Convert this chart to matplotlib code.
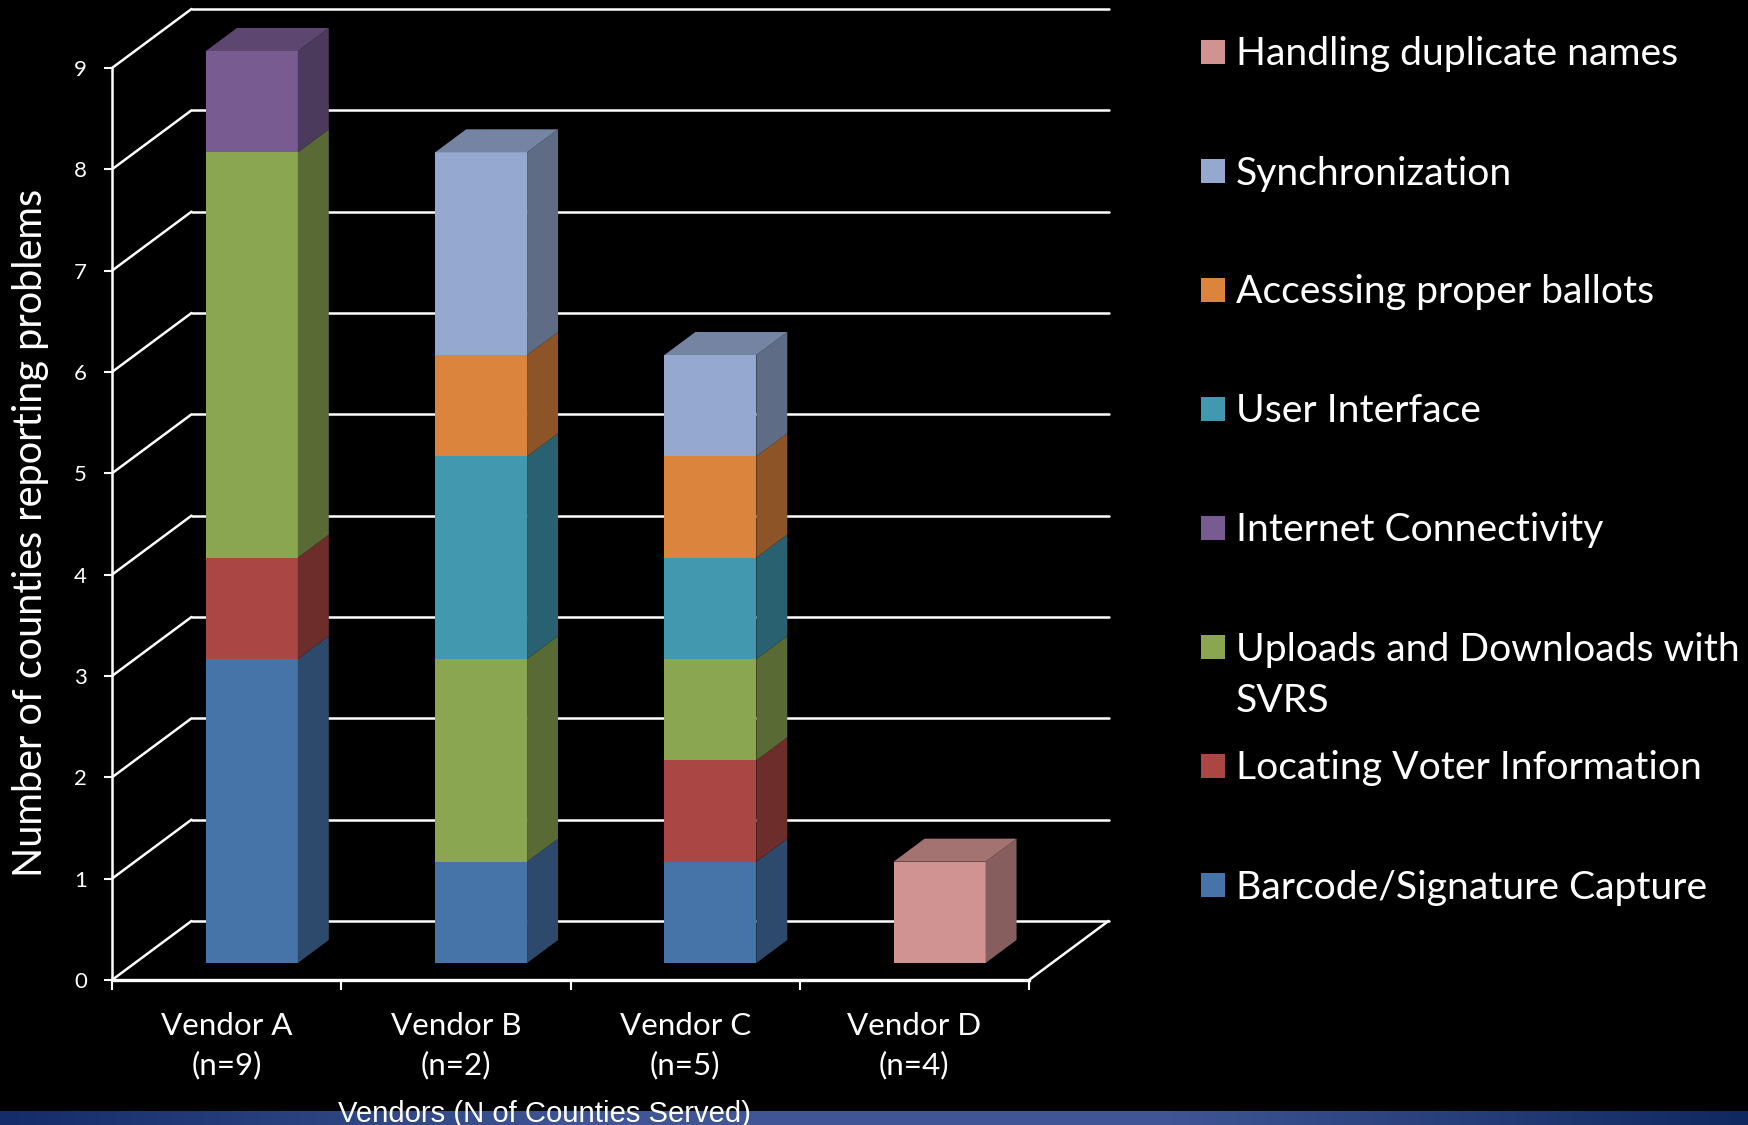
import numpy as np
import matplotlib
matplotlib.use('Agg')
import matplotlib.pyplot as plt
from matplotlib.colors import LinearSegmentedColormap, to_rgb
from matplotlib.patches import Rectangle

vendors = ['Vendor A\n(n=9)', 'Vendor B\n(n=2)', 'Vendor C\n(n=5)', 'Vendor D\n(n=4)']

# stacked from the bottom up, same order as the chart
problems = ['Barcode/Signature Capture', 'Locating Voter Information',
            'Uploads and Downloads with\nSVRS', 'Internet Connectivity',
            'User Interface', 'Accessing proper ballots',
            'Synchronization', 'Handling duplicate names']
barcode = [3, 1, 1, 0]
locating = [1, 0, 1, 0]
uploads = [4, 2, 1, 0]
internet = [1, 0, 0, 0]
interface = [0, 2, 1, 0]
ballots = [0, 1, 1, 0]
sync = [0, 2, 1, 0]
duplicates = [0, 0, 0, 1]
series = [barcode, locating, uploads, internet, interface, ballots, sync, duplicates]
colors = ['#4673A8', '#AA4643', '#8BA651', '#775B91',
          '#4198AF', '#DB843D', '#95A9D0', '#D19392']

W, H = 1748, 1125
fig = plt.figure(figsize=(W / 100, H / 100), dpi=100, facecolor='black')
plt.rcParams['font.family'] = ['Lato', 'DejaVu Sans']

# strip along the bottom, dark at both ends
strip = fig.add_axes([0, 0, 1, 14 / H])
grad = LinearSegmentedColormap.from_list('strip', ['#142C6A', '#3F5595', '#3F5595', '#0F2860'])
strip.imshow(np.linspace(0, 1, 256).reshape(1, -1), aspect='auto', cmap=grad)
strip.axis('off')

# axes rectangle is the front plane of the fake 3D box
ax = fig.add_axes([112 / W, 1 - 980 / H, 917 / W, 912 / H])
ax.set_facecolor('none')
ax.set_xlim(0, 4)
ax.set_ylim(0, 9)

depth_x = 79.5 / 229.25
depth_y = 59 / 101.3
bar_dx = 31 / 229.25
bar_dy = 23 / 101.3
lift_x = 0.11
lift_y = 17 / 101.3
bar_w = 0.401

line = dict(color='white', lw=1.8, clip_on=False, zorder=1, solid_capstyle='round')
for k in range(10):
    ax.plot([0, depth_x], [k, k + depth_y], **line)
    ax.plot([depth_x, 4 + depth_x], [k + depth_y, k + depth_y], **line)
ax.plot([4, 4 + depth_x], [0, depth_y], **line)


def shade(c, f):
    return tuple(v * f for v in to_rgb(c))


x = np.arange(4) + 0.5 + lift_x
bottom = np.zeros(4)
totals = np.sum(series, axis=0)
for vals, c in zip(series, colors):
    vals = np.array(vals)
    ax.bar(x, vals, bar_w, bottom=bottom + lift_y, color=c, clip_on=False, zorder=3)
    for xi, b, v, t in zip(x, bottom, vals, totals):
        if v == 0:
            continue
        x1 = xi + bar_w / 2
        y0 = b + lift_y
        y1 = y0 + v
        ax.fill([x1, x1 + bar_dx, x1 + bar_dx, x1],
                [y0, y0 + bar_dy, y1 + bar_dy, y1],
                color=shade(c, 0.64), lw=0, clip_on=False, zorder=3)
        if b + v == t:
            x0 = xi - bar_w / 2
            ax.fill([x0, x1, x1 + bar_dx, x0 + bar_dx],
                    [y1, y1, y1 + bar_dy, y1 + bar_dy],
                    color=shade(c, 0.78), lw=0, clip_on=False, zorder=3)
    bottom = bottom + vals

for side in ['top', 'right']:
    ax.spines[side].set_visible(False)
for side in ['left', 'bottom']:
    ax.spines[side].set_color('white')
ax.spines['left'].set_linewidth(1.8)
ax.spines['bottom'].set_linewidth(2.4)

ax.set_yticks(range(10))
ax.tick_params(axis='y', colors='white', labelsize=16, length=6, width=1.5, pad=12)
ax.set_xticks(range(5))
ax.set_xticklabels([])
ax.tick_params(axis='x', which='major', colors='white', length=7.5, width=1.5)
ax.set_xticks(np.arange(4) + 0.5, minor=True)
ax.set_xticklabels(vendors, minor=True, fontsize=22.6, color='white', linespacing=1.45)
ax.tick_params(axis='x', which='minor', length=0, pad=23)

fig.text(31 / W, 1 - 533 / H, 'Number of counties reporting problems', color='white',
         fontsize=28.5, rotation=90, ha='center', va='center')
fig.text(545 / W, 1 - 1113.5 / H, 'Vendors (N of Counties Served)', color='white',
         fontsize=21.1, family='Liberation Sans', ha='center', va='center')

# legend, top entry first
for i, (name, c) in enumerate(zip(problems[::-1], colors[::-1])):
    yc = 52 + 119 * i
    fig.add_artist(Rectangle((1201 / W, 1 - (yc + 12) / H), 24 / W, 24 / H,
                             transform=fig.transFigure, color=c, lw=0))
    if '\n' in name:
        fig.text(1236 / W, 1 - (yc - 15.5) / H, name, color='white', fontsize=28.2,
                 ha='left', va='top', linespacing=1.53)
    else:
        fig.text(1236 / W, 1 - (yc + 2.5) / H, name, color='white', fontsize=28.2,
                 ha='left', va='center')

fig.savefig('out.png', dpi=100, facecolor='black')
